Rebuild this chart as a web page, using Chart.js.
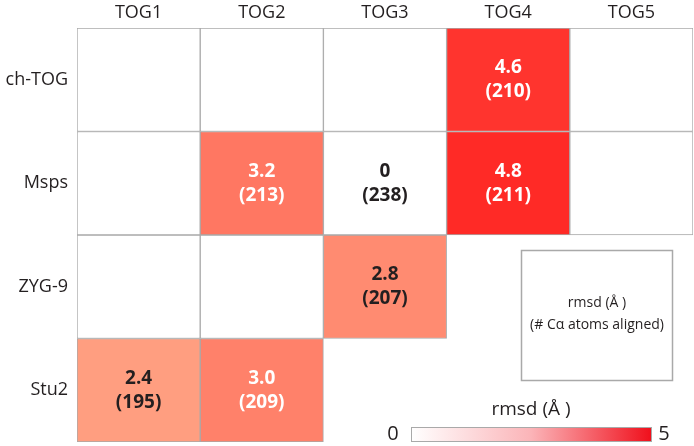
<!DOCTYPE html>
<html lang="en">
<head>
<meta charset="UTF-8">
<title>TOG rmsd heatmap</title>
<script src="https://cdn.jsdelivr.net/npm/chart.js"></script>
<style>
  html, body { margin: 0; padding: 0; background: #fff; overflow: hidden; }
  #wrap { position: relative; width: 694px; height: 446px; }
</style>
</head>
<body>
<div id="wrap"><canvas id="heat"></canvas></div>
<script>
// columns and rows of the grid
var columns = ['TOG1', 'TOG2', 'TOG3', 'TOG4', 'TOG5'];
var rows = ['ch-TOG', 'Msps', 'ZYG-9', 'Stu2'];
// how many cells (from the left) are drawn in each row
var cellsPerRow = [5, 5, 3, 2];

// rmsd (Å) per cell, null = empty cell
var rmsdChTOG = [null, null, null, 4.6, null];
var rmsdMsps  = [null, 3.2, 0, 4.8, null];
var rmsdZYG9  = [null, null, 2.8, null, null];
var rmsdStu2  = [2.4, 3.0, null, null, null];

// number of Cα atoms aligned per cell
var atomsChTOG = [null, null, null, 210, null];
var atomsMsps  = [null, 213, 238, 211, null];
var atomsZYG9  = [null, null, 207, null, null];
var atomsStu2  = [195, 209, null, null, null];

var rmsdRows = [rmsdChTOG, rmsdMsps, rmsdZYG9, rmsdStu2];
var atomRows = [atomsChTOG, atomsMsps, atomsZYG9, atomsStu2];

var FONT = "'Open Sans', sans-serif";
var GRID = '#a9a9a9';
var INK = '#231f20';

// colour scale: value -> rgb
var stops = [[0, [255, 255, 255]], [2.4, [255, 158, 128]], [4.8, [255, 42, 38]], [5, [255, 32, 32]]];
function colorFor(v) {
    if (v === null || v === undefined) return '#ffffff';
    for (var i = 1; i < stops.length; i++) {
        if (v <= stops[i][0]) {
            var a = stops[i - 1], b = stops[i];
            var t = (v - a[0]) / (b[0] - a[0]);
            var c = a[1].map(function (x, k) { return Math.round(x + (b[1][k] - x) * t); });
            return 'rgb(' + c.join(',') + ')';
        }
    }
    return 'rgb(255,32,32)';
}

var datasets = rows.map(function (name, r) {
    return {
        label: name,
        data: columns.map(function (c, i) { return i < cellsPerRow[r] ? [r, r + 1] : null; }),
        backgroundColor: rmsdRows[r].map(colorFor),
        borderColor: GRID,
        borderWidth: 1,
        borderSkipped: false,
        grouped: false,
        barPercentage: 1,
        categoryPercentage: 1
    };
});

// cell text: rmsd and (atoms), plus key box and colour bar
var cellText = {
    id: 'cellText',
    afterDatasetsDraw: function (chart) {
        var ctx = chart.ctx;
        ctx.save();
        ctx.textAlign = 'center';
        ctx.textBaseline = 'middle';
        ctx.font = 'bold 19px ' + FONT;
        chart.data.datasets.forEach(function (ds, r) {
            var meta = chart.getDatasetMeta(r);
            meta.data.forEach(function (el, i) {
                var v = rmsdRows[r][i];
                if (v === null || v === undefined) return;
                var cy = (el.y + el.base) / 2;
                var label = (v === 0) ? '0' : v.toFixed(1);
                ctx.fillStyle = v >= 3 ? '#ffffff' : INK;
                ctx.fillText(label, el.x, cy - 12);
                ctx.fillText('(' + atomRows[r][i] + ')', el.x, cy + 12);
            });
        });
        ctx.restore();
    },
    afterDraw: function (chart) {
        var ctx = chart.ctx;
        ctx.save();
        // key box
        ctx.strokeStyle = GRID;
        ctx.lineWidth = 1.5;
        ctx.strokeRect(521.5, 250.5, 151, 130);
        ctx.fillStyle = INK;
        ctx.textAlign = 'center';
        ctx.textBaseline = 'middle';
        ctx.font = '14px ' + FONT;
        ctx.fillText('rmsd (Å )', 597, 303);
        ctx.fillText('(# Cα atoms aligned)', 597, 325);
        // colour bar
        var x0 = 411, x1 = 651, y0 = 427, h = 14;
        var g = ctx.createLinearGradient(x0, 0, x1, 0);
        g.addColorStop(0, '#ffffff');
        g.addColorStop(0.5, '#fbb4b8');
        g.addColorStop(1, '#f0101c');
        ctx.fillStyle = g;
        ctx.fillRect(x0, y0, x1 - x0, h);
        ctx.lineWidth = 1;
        ctx.strokeRect(x0 + 0.5, y0 + 0.5, x1 - x0, h);
        ctx.fillStyle = INK;
        ctx.font = '20px ' + FONT;
        ctx.fillText('0', 393, y0 + h / 2);
        ctx.fillText('5', 664, y0 + h / 2);
        ctx.font = '19px ' + FONT;
        ctx.fillText('rmsd (Å )', 531, 410);
        ctx.restore();
    }
};

new Chart(document.getElementById('heat'), {
    type: 'bar',
    data: { labels: columns, datasets: datasets },
    options: {
        responsive: true,
        maintainAspectRatio: false,
        animation: false,
        layout: { padding: { left: 0, right: 1, top: 0, bottom: 4 } },
        plugins: { legend: { display: false }, tooltip: { enabled: false } },
        scales: {
            x: {
                position: 'top',
                grid: { display: false, drawTicks: false },
                border: { display: false },
                ticks: { color: INK, font: { family: FONT, size: 18 }, padding: 4 },
                afterFit: function (s) { s.height = 28; }
            },
            y: {
                min: 0,
                max: 4,
                reverse: true,
                grid: { display: false, drawTicks: false },
                border: { display: false },
                afterBuildTicks: function (s) {
                    s.ticks = [0.5, 1.5, 2.5, 3.5].map(function (v) { return { value: v }; });
                },
                ticks: {
                    color: INK,
                    font: { family: FONT, size: 18 },
                    padding: 9,
                    callback: function (v) { return rows[Math.floor(v)]; }
                },
                afterFit: function (s) { s.width = 77; s.paddingTop = 0; s.paddingBottom = 0; }
            }
        }
    },
    plugins: [cellText]
});
</script>
</body>
</html>
